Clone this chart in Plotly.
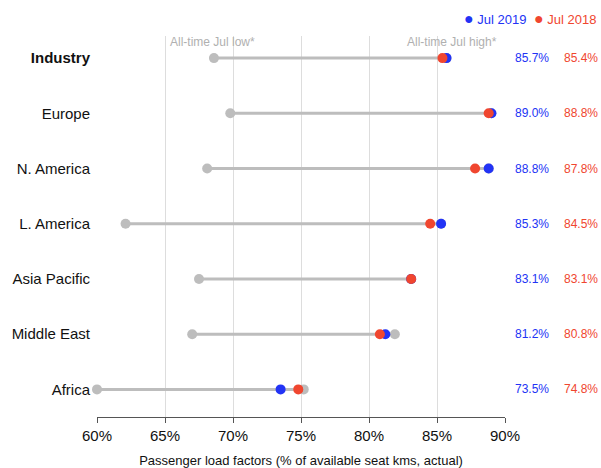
import plotly.graph_objects as go

regions = ["Industry", "Europe", "N. America", "L. America", "Asia Pacific", "Middle East", "Africa"]
all_time_low = [68.6, 69.8, 68.1, 62.1, 67.5, 67.0, 60.0]
all_time_high = [85.7, 89.0, 88.8, 85.3, 83.1, 81.9, 75.2]
jul_2019 = [85.7, 89.0, 88.8, 85.3, 83.1, 81.2, 73.5]
jul_2018 = [85.4, 88.8, 87.8, 84.5, 83.1, 80.8, 74.8]
x_ticks = [60, 65, 70, 75, 80, 85, 90]

BLUE = "#2233f5"
RED = "#f0462f"
GRAY = "#bdbdbd"
FONT = "Liberation Sans"

n = len(regions)
ypos = [n - 1 - i for i in range(n)]

fig = go.Figure()

lx, ly = [], []
for lo, hi, y in zip(all_time_low, all_time_high, ypos):
    lx += [lo, hi, None]
    ly += [y, y, None]
fig.add_trace(go.Scatter(x=lx, y=ly, mode="lines", line=dict(color=GRAY, width=3),
                         hoverinfo="skip", showlegend=False, cliponaxis=False))
fig.add_trace(go.Scatter(x=all_time_low + all_time_high, y=ypos + ypos, mode="markers",
                         marker=dict(color=GRAY, size=10), showlegend=False, cliponaxis=False))
fig.add_trace(go.Scatter(x=jul_2019, y=ypos, mode="markers", name="Jul 2019",
                         marker=dict(color=BLUE, size=10), showlegend=False, cliponaxis=False))
fig.add_trace(go.Scatter(x=jul_2018, y=ypos, mode="markers", name="Jul 2018",
                         marker=dict(color=RED, size=10), showlegend=False, cliponaxis=False))

ticktext = ["<b>" + r + "</b>" if r == "Industry" else r for r in regions]

annotations = []
for v19, v18, y in zip(jul_2019, jul_2018, ypos):
    annotations.append(dict(x=1.066, xref="paper", y=y, yref="y", text=f"{v19:.1f}%",
                            showarrow=False, xanchor="center",
                            font=dict(color=BLUE, size=12, family=FONT)))
    annotations.append(dict(x=1.186, xref="paper", y=y, yref="y", text=f"{v18:.1f}%",
                            showarrow=False, xanchor="center",
                            font=dict(color=RED, size=12, family=FONT)))

annotations.append(dict(x=68.5, y=n - 1 + 0.29, xref="x", yref="y",
                        text="All-time Jul low*", showarrow=False, xanchor="center",
                        font=dict(color="#b0b0b0", size=12, family=FONT)))
annotations.append(dict(x=86.1, y=n - 1 + 0.29, xref="x", yref="y",
                        text="All-time Jul high*", showarrow=False, xanchor="center",
                        font=dict(color="#b0b0b0", size=12, family=FONT)))
annotations.append(dict(x=1.054, y=1.047, xref="paper", yref="paper", xanchor="right",
                        yanchor="middle", text="<span style='font-size:16px'>●</span> Jul 2019",
                        showarrow=False, borderpad=0,
                        font=dict(color=BLUE, size=13, family=FONT)))
annotations.append(dict(x=1.226, y=1.047, xref="paper", yref="paper", xanchor="right",
                        yanchor="middle", text="<span style='font-size:16px'>●</span> Jul 2018",
                        showarrow=False, borderpad=0,
                        font=dict(color=RED, size=13, family=FONT)))

fig.update_layout(
    width=601, height=468,
    margin=dict(l=97, r=96, t=36, b=51, autoexpand=False),
    plot_bgcolor="white", paper_bgcolor="white",
    font=dict(family=FONT, color="#111111"),
    annotations=annotations,
    xaxis=dict(range=[60, 90], tickvals=x_ticks, ticktext=[f"{t}%" for t in x_ticks],
               showgrid=True, gridcolor="#dddddd", gridwidth=1, zeroline=False,
               showline=True, linecolor="#555555", linewidth=1,
               ticks="outside", ticklen=5, tickcolor="#555555", automargin=False,
               tickfont=dict(size=15, family=FONT),
               title=dict(text="Passenger load factors (% of available seat kms, actual)",
                          font=dict(size=13, family=FONT), standoff=12)),
    yaxis=dict(range=[-0.5, n - 1 + 0.4], tickvals=ypos, ticktext=ticktext,
               showgrid=False, zeroline=False, showline=False, ticks="", automargin=False,
               ticklabelstandoff=6,
               tickfont=dict(size=15, family=FONT)),
)

fig.write_html("out.html", config={"displayModeBar": False},
               post_script="document.body.style.margin='0';document.body.style.padding='0';")
